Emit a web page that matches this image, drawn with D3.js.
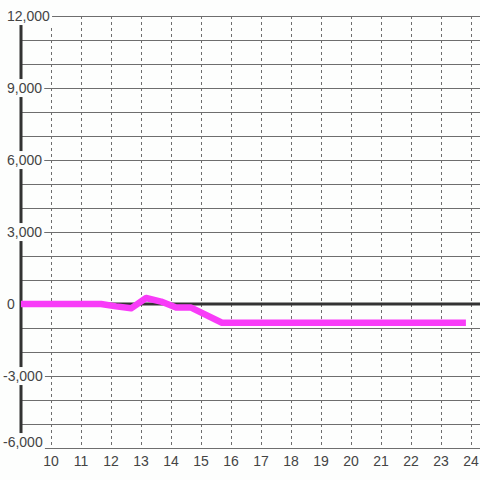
<!DOCTYPE html>
<html><head><meta charset="utf-8">
<script src="https://cdn.jsdelivr.net/npm/d3@7"></script>
<style>html,body{margin:0;padding:0;background:#fdfefd;}</style>
</head><body>
<svg id="c" width="480" height="480"></svg>
<script>
const hours = [9, 11.67, 12.17, 12.67, 13.17, 13.67, 14.17, 14.67, 15.7, 23.83];
const values = [0, 0, -100, -180, 250, 100, -150, -150, -780, -780];
const xTicks = [10,11,12,13,14,15,16,17,18,19,20,21,22,23,24];
const yGrid = d3.range(-6000, 12001, 1000);
const yLabels = [12000, 9000, 6000, 3000, 0, -3000, -6000];

const svg = d3.select("#c");
svg.append("rect").attr("width",480).attr("height",480).attr("fill","#fdfefd");
const x = d3.scaleLinear().domain([9, 24.3]).range([21, 480]);
const y = d3.scaleLinear().domain([-6000, 12000]).range([448, 16]);

svg.append("g").selectAll("line").data(yGrid).join("line")
  .attr("x1", x(9)).attr("x2", 480)
  .attr("y1", d => Math.round(y(d)) + 0.5).attr("y2", d => Math.round(y(d)) + 0.5)
  .attr("stroke", "#6e6e6e").attr("stroke-width", 1);

svg.append("g").selectAll("line").data(xTicks).join("line")
  .attr("x1", d => Math.round(x(d)) + 0.5).attr("x2", d => Math.round(x(d)) + 0.5)
  .attr("y1", y(12000)).attr("y2", y(-6000))
  .attr("stroke", "#6e6e6e").attr("stroke-width", 1).attr("stroke-dasharray", "3,3");

svg.append("line").attr("x1", x(9)).attr("x2", 480)
  .attr("y1", y(0)).attr("y2", y(0)).attr("stroke", "#333").attr("stroke-width", 3);

svg.append("line").attr("x1", x(9)).attr("x2", x(9))
  .attr("y1", y(12000)).attr("y2", y(-6000)).attr("stroke", "#333").attr("stroke-width", 3);

const pts = hours.map((h, i) => [h, values[i]]);
svg.append("path").datum(pts)
  .attr("d", d3.line().x(d => x(d[0])).y(d => y(d[1])))
  .attr("fill", "none").attr("stroke", "#f83cf8").attr("stroke-width", 6.5)
  .attr("stroke-linejoin", "round");

const fmt = d3.format(",");
const yl = svg.append("g").style("font-family", "'Liberation Sans', Arial, sans-serif").style("font-size", "14px");
yLabels.forEach(v => {
  const g = yl.append("g");
  const yy = Math.min(y(v), 442);
  const t = g.append("text").attr("x", v < 0 ? 3 : 7).attr("y", yy).attr("dy", "0.36em")
    .attr("fill", "#444").text(fmt(v).replace("−", "-"));
  const b = t.node().getBBox();
  g.insert("rect", "text").attr("x", b.x - 1).attr("y", b.y - 1)
    .attr("width", b.width + 3).attr("height", b.height + 2).attr("fill", "#fdfefd");
});

svg.append("g").selectAll("text").data(xTicks).join("text")
  .attr("x", d => x(d)).attr("y", 461).attr("dy", "0.36em").attr("text-anchor", "middle")
  .style("font-family", "'Liberation Sans', Arial, sans-serif").style("font-size", "14px")
  .attr("fill", "#444").text(d => d);
</script>
</body></html>
